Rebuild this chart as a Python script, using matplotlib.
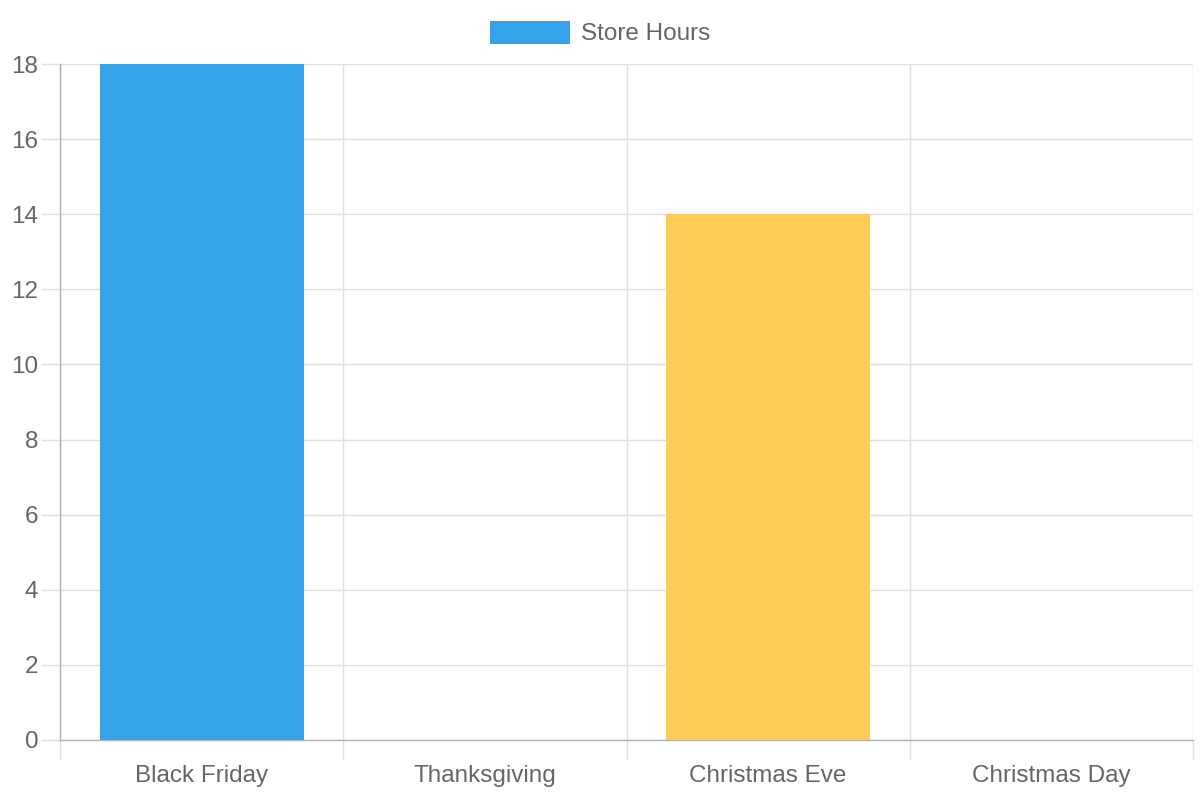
import matplotlib.pyplot as plt
from matplotlib.patches import Patch
import numpy as np

# data
days = ["Black Friday", "Thanksgiving", "Christmas Eve", "Christmas Day"]
store_hours = [18, 0, 14, 0]
bar_colors = ["#36A2EB", "#FF6384", "#FFCD56", "#4BC0C0"]
y_ticks = [0, 2, 4, 6, 8, 10, 12, 14, 16, 18]

plt.rcParams['font.family'] = ['Liberation Sans', 'DejaVu Sans']

text_color = "#666666"
grid_color = "#e0e0e0"
axis_color = "#b0b0b0"

fig = plt.figure(figsize=(12, 8), dpi=100)
ax = fig.add_axes([60 / 1200, 60 / 800, 1133 / 1200, 676 / 800])

x = np.arange(len(days))
ax.bar(x, store_hours, width=0.72, color=bar_colors, zorder=3)

ax.set_xlim(-0.5, len(days) - 0.5)
ax.set_ylim(0, 18)

# y axis
ax.set_yticks(y_ticks)
ax.tick_params(axis='y', length=14, width=1, color=grid_color, pad=1.5,
               labelsize=17.5, labelcolor=text_color)
ax.yaxis.grid(True, color=grid_color, linewidth=1, zorder=0)

# x axis: labels in the middle, grid lines between categories
ax.set_xticks(x)
ax.set_xticklabels(days)
ax.set_xticks(np.arange(-0.5, len(days)), minor=True)
ax.tick_params(axis='x', which='major', length=0, pad=18,
               labelsize=17.5, labelcolor=text_color)
ax.tick_params(axis='x', which='minor', length=14, width=1, color=grid_color)
ax.xaxis.grid(True, which='minor', color=grid_color, linewidth=1, zorder=0)
ax.xaxis.grid(False, which='major')

for side in ['top', 'right']:
    ax.spines[side].set_visible(False)
for side in ['left', 'bottom']:
    ax.spines[side].set_color(axis_color)
    ax.spines[side].set_linewidth(1)
ax.set_axisbelow(True)

# legend
fig.legend(handles=[Patch(facecolor=bar_colors[0], label="Store Hours")],
           loc='center', bbox_to_anchor=(0.5, 1 - 33 / 800), frameon=False,
           fontsize=17.5, labelcolor=text_color, handlelength=3.3,
           handleheight=1.1, handletextpad=0.45)

fig.savefig("out.png", dpi=100, facecolor="white")
